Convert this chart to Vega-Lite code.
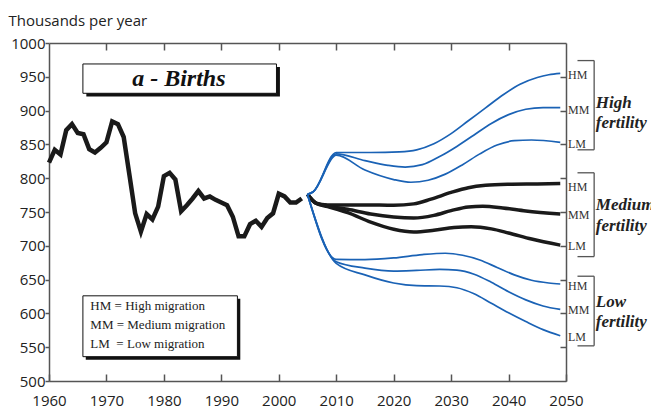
{
  "$schema": "https://vega.github.io/schema/vega-lite/v6.json",
  "width": 517,
  "height": 338,
  "autosize": {"type": "none"},
  "padding": {"left": 49, "top": 43, "right": 85, "bottom": 29},
  "background": "white",
  "config": {
    "view": {"stroke": null},
    "axis": {
      "labelFont": "Open Sans", "labelFontSize": 15, "labelColor": "#222",
      "domainColor": "#555", "tickColor": "#555", "domainWidth": 1.5, "tickWidth": 1.5,
      "grid": false, "titleFont": "Open Sans"
    }
  },
  "datasets": {
    "hist": [
      {"year": 1960, "value": 823}, {"year": 1961, "value": 842}, {"year": 1962, "value": 835},
      {"year": 1963, "value": 871}, {"year": 1964, "value": 880}, {"year": 1965, "value": 867},
      {"year": 1966, "value": 865}, {"year": 1967, "value": 843}, {"year": 1968, "value": 838},
      {"year": 1969, "value": 845}, {"year": 1970, "value": 853}, {"year": 1971, "value": 884},
      {"year": 1972, "value": 880}, {"year": 1973, "value": 861}, {"year": 1974, "value": 805},
      {"year": 1975, "value": 748}, {"year": 1976, "value": 721}, {"year": 1977, "value": 747},
      {"year": 1978, "value": 739}, {"year": 1979, "value": 758}, {"year": 1980, "value": 803},
      {"year": 1981, "value": 808}, {"year": 1982, "value": 798}, {"year": 1983, "value": 751},
      {"year": 1984, "value": 760}, {"year": 1985, "value": 770}, {"year": 1986, "value": 781},
      {"year": 1987, "value": 770}, {"year": 1988, "value": 773}, {"year": 1989, "value": 768},
      {"year": 1990, "value": 764}, {"year": 1991, "value": 760}, {"year": 1992, "value": 743},
      {"year": 1993, "value": 714}, {"year": 1994, "value": 714}, {"year": 1995, "value": 732},
      {"year": 1996, "value": 737}, {"year": 1997, "value": 728}, {"year": 1998, "value": 741},
      {"year": 1999, "value": 748}, {"year": 2000, "value": 777}, {"year": 2001, "value": 773},
      {"year": 2002, "value": 764}, {"year": 2003, "value": 764}, {"year": 2004, "value": 770}
    ],
    "proj": [
      {"s": "H-HM", "g": "High", "year": 2005, "value": 776},
      {"s": "H-HM", "g": "High", "year": 2006, "value": 780},
      {"s": "H-HM", "g": "High", "year": 2010, "value": 838},
      {"s": "H-HM", "g": "High", "year": 2016, "value": 838},
      {"s": "H-HM", "g": "High", "year": 2021, "value": 839},
      {"s": "H-HM", "g": "High", "year": 2024, "value": 842},
      {"s": "H-HM", "g": "High", "year": 2027, "value": 851},
      {"s": "H-HM", "g": "High", "year": 2030, "value": 866},
      {"s": "H-HM", "g": "High", "year": 2033, "value": 885},
      {"s": "H-HM", "g": "High", "year": 2036, "value": 904},
      {"s": "H-HM", "g": "High", "year": 2039, "value": 923},
      {"s": "H-HM", "g": "High", "year": 2042, "value": 939},
      {"s": "H-HM", "g": "High", "year": 2045, "value": 949},
      {"s": "H-HM", "g": "High", "year": 2047, "value": 953},
      {"s": "H-HM", "g": "High", "year": 2049, "value": 955},

      {"s": "H-MM", "g": "High", "year": 2005, "value": 776},
      {"s": "H-MM", "g": "High", "year": 2006, "value": 780},
      {"s": "H-MM", "g": "High", "year": 2010, "value": 836},
      {"s": "H-MM", "g": "High", "year": 2015, "value": 826},
      {"s": "H-MM", "g": "High", "year": 2019, "value": 819},
      {"s": "H-MM", "g": "High", "year": 2022, "value": 816.5},
      {"s": "H-MM", "g": "High", "year": 2025, "value": 820},
      {"s": "H-MM", "g": "High", "year": 2028, "value": 832},
      {"s": "H-MM", "g": "High", "year": 2031, "value": 847},
      {"s": "H-MM", "g": "High", "year": 2034, "value": 864},
      {"s": "H-MM", "g": "High", "year": 2037, "value": 881},
      {"s": "H-MM", "g": "High", "year": 2040, "value": 894},
      {"s": "H-MM", "g": "High", "year": 2043, "value": 902},
      {"s": "H-MM", "g": "High", "year": 2046, "value": 904.5},
      {"s": "H-MM", "g": "High", "year": 2049, "value": 904.5},

      {"s": "H-LM", "g": "High", "year": 2005, "value": 776},
      {"s": "H-LM", "g": "High", "year": 2006, "value": 780},
      {"s": "H-LM", "g": "High", "year": 2010, "value": 834},
      {"s": "H-LM", "g": "High", "year": 2015, "value": 812},
      {"s": "H-LM", "g": "High", "year": 2020, "value": 798},
      {"s": "H-LM", "g": "High", "year": 2023, "value": 794},
      {"s": "H-LM", "g": "High", "year": 2026, "value": 797},
      {"s": "H-LM", "g": "High", "year": 2029, "value": 806},
      {"s": "H-LM", "g": "High", "year": 2032, "value": 820},
      {"s": "H-LM", "g": "High", "year": 2035, "value": 836},
      {"s": "H-LM", "g": "High", "year": 2038, "value": 849},
      {"s": "H-LM", "g": "High", "year": 2041, "value": 855.5},
      {"s": "H-LM", "g": "High", "year": 2044, "value": 856.5},
      {"s": "H-LM", "g": "High", "year": 2049, "value": 853},

      {"s": "M-HM", "g": "Medium", "year": 2005, "value": 776},
      {"s": "M-HM", "g": "Medium", "year": 2006.5, "value": 763},
      {"s": "M-HM", "g": "Medium", "year": 2008.5, "value": 760.5},
      {"s": "M-HM", "g": "Medium", "year": 2015, "value": 760.5},
      {"s": "M-HM", "g": "Medium", "year": 2020, "value": 760},
      {"s": "M-HM", "g": "Medium", "year": 2023.5, "value": 762},
      {"s": "M-HM", "g": "Medium", "year": 2026.5, "value": 769},
      {"s": "M-HM", "g": "Medium", "year": 2030, "value": 779},
      {"s": "M-HM", "g": "Medium", "year": 2033, "value": 786},
      {"s": "M-HM", "g": "Medium", "year": 2036, "value": 789.5},
      {"s": "M-HM", "g": "Medium", "year": 2040, "value": 791},
      {"s": "M-HM", "g": "Medium", "year": 2045, "value": 791.5},
      {"s": "M-HM", "g": "Medium", "year": 2049, "value": 792},

      {"s": "M-MM", "g": "Medium", "year": 2005, "value": 776},
      {"s": "M-MM", "g": "Medium", "year": 2006.5, "value": 763},
      {"s": "M-MM", "g": "Medium", "year": 2008.5, "value": 759},
      {"s": "M-MM", "g": "Medium", "year": 2012, "value": 754},
      {"s": "M-MM", "g": "Medium", "year": 2016, "value": 747},
      {"s": "M-MM", "g": "Medium", "year": 2020, "value": 742.5},
      {"s": "M-MM", "g": "Medium", "year": 2023.5, "value": 741},
      {"s": "M-MM", "g": "Medium", "year": 2027, "value": 745},
      {"s": "M-MM", "g": "Medium", "year": 2030, "value": 752},
      {"s": "M-MM", "g": "Medium", "year": 2033, "value": 757.5},
      {"s": "M-MM", "g": "Medium", "year": 2035.5, "value": 758.5},
      {"s": "M-MM", "g": "Medium", "year": 2039, "value": 756},
      {"s": "M-MM", "g": "Medium", "year": 2043, "value": 751.5},
      {"s": "M-MM", "g": "Medium", "year": 2049, "value": 747},

      {"s": "M-LM", "g": "Medium", "year": 2005, "value": 776},
      {"s": "M-LM", "g": "Medium", "year": 2006.5, "value": 763},
      {"s": "M-LM", "g": "Medium", "year": 2008.5, "value": 758},
      {"s": "M-LM", "g": "Medium", "year": 2012, "value": 749},
      {"s": "M-LM", "g": "Medium", "year": 2016, "value": 735},
      {"s": "M-LM", "g": "Medium", "year": 2020, "value": 724.5},
      {"s": "M-LM", "g": "Medium", "year": 2023.5, "value": 720.5},
      {"s": "M-LM", "g": "Medium", "year": 2027, "value": 723},
      {"s": "M-LM", "g": "Medium", "year": 2030.5, "value": 727},
      {"s": "M-LM", "g": "Medium", "year": 2033.5, "value": 728},
      {"s": "M-LM", "g": "Medium", "year": 2037, "value": 725},
      {"s": "M-LM", "g": "Medium", "year": 2040, "value": 719},
      {"s": "M-LM", "g": "Medium", "year": 2044, "value": 710},
      {"s": "M-LM", "g": "Medium", "year": 2049, "value": 701},

      {"s": "L-HM", "g": "Low", "year": 2005, "value": 776},
      {"s": "L-HM", "g": "Low", "year": 2010, "value": 680},
      {"s": "L-HM", "g": "Low", "year": 2015, "value": 679.5},
      {"s": "L-HM", "g": "Low", "year": 2020, "value": 682},
      {"s": "L-HM", "g": "Low", "year": 2025, "value": 687},
      {"s": "L-HM", "g": "Low", "year": 2029, "value": 689},
      {"s": "L-HM", "g": "Low", "year": 2032, "value": 686},
      {"s": "L-HM", "g": "Low", "year": 2035, "value": 679},
      {"s": "L-HM", "g": "Low", "year": 2038, "value": 668},
      {"s": "L-HM", "g": "Low", "year": 2041, "value": 657},
      {"s": "L-HM", "g": "Low", "year": 2044, "value": 649},
      {"s": "L-HM", "g": "Low", "year": 2047, "value": 645},
      {"s": "L-HM", "g": "Low", "year": 2049, "value": 643.5},

      {"s": "L-MM", "g": "Low", "year": 2005, "value": 776},
      {"s": "L-MM", "g": "Low", "year": 2010, "value": 676.5},
      {"s": "L-MM", "g": "Low", "year": 2015, "value": 667},
      {"s": "L-MM", "g": "Low", "year": 2020, "value": 662.5},
      {"s": "L-MM", "g": "Low", "year": 2024, "value": 663.5},
      {"s": "L-MM", "g": "Low", "year": 2028, "value": 665},
      {"s": "L-MM", "g": "Low", "year": 2031, "value": 664},
      {"s": "L-MM", "g": "Low", "year": 2034, "value": 658},
      {"s": "L-MM", "g": "Low", "year": 2037, "value": 646},
      {"s": "L-MM", "g": "Low", "year": 2040, "value": 632},
      {"s": "L-MM", "g": "Low", "year": 2043, "value": 620},
      {"s": "L-MM", "g": "Low", "year": 2046, "value": 611},
      {"s": "L-MM", "g": "Low", "year": 2049, "value": 606},

      {"s": "L-LM", "g": "Low", "year": 2005, "value": 776},
      {"s": "L-LM", "g": "Low", "year": 2010, "value": 674},
      {"s": "L-LM", "g": "Low", "year": 2015, "value": 657},
      {"s": "L-LM", "g": "Low", "year": 2020, "value": 645},
      {"s": "L-LM", "g": "Low", "year": 2024, "value": 641},
      {"s": "L-LM", "g": "Low", "year": 2028, "value": 640.5},
      {"s": "L-LM", "g": "Low", "year": 2031, "value": 638},
      {"s": "L-LM", "g": "Low", "year": 2034, "value": 629},
      {"s": "L-LM", "g": "Low", "year": 2037, "value": 615},
      {"s": "L-LM", "g": "Low", "year": 2040, "value": 601},
      {"s": "L-LM", "g": "Low", "year": 2043, "value": 588},
      {"s": "L-LM", "g": "Low", "year": 2046, "value": 576},
      {"s": "L-LM", "g": "Low", "year": 2049, "value": 567}
    ],
    "endlabels": [
      {"t": "HM", "value": 952}, {"t": "MM", "value": 901}, {"t": "LM", "value": 850},
      {"t": "HM", "value": 787}, {"t": "MM", "value": 745}, {"t": "LM", "value": 700},
      {"t": "HM", "value": 641}, {"t": "MM", "value": 605}, {"t": "LM", "value": 565}
    ],
    "groups": [
      {"g": "High", "top": 974, "bottom": 842},
      {"g": "Medium", "top": 808, "bottom": 684},
      {"g": "Low", "top": 655, "bottom": 552}
    ],
    "grouplabels": [
      {"t": "High", "value": 911}, {"t": "fertility", "value": 881},
      {"t": "Medium", "value": 760}, {"t": "fertility", "value": 730},
      {"t": "Low", "value": 617}, {"t": "fertility", "value": 588}
    ],
    "legend": [
      {"t": "HM = High migration", "value": 611},
      {"t": "MM = Medium migration", "value": 583},
      {"t": "LM\u00a0 = Low migration", "value": 554}
    ]
  },
  "resolve": {"axis": {"x": "independent", "y": "independent"}},
  "layer": [
    {
      "data": {"name": "hist"},
      "mark": {"type": "line", "color": "#1a1a1a", "strokeWidth": 4.5, "strokeJoin": "miter"},
      "encoding": {
        "x": {"field": "year", "type": "quantitative",
              "scale": {"domain": [1960, 2050], "nice": false, "zero": false},
              "axis": {"orient": "bottom", "values": [1960, 1970, 1980, 1990, 2000, 2010, 2020, 2030, 2040, 2050],
                       "format": "d", "tickSize": -7, "labelPadding": 19, "title": null, "labelFlush": false}},
        "y": {"field": "value", "type": "quantitative",
              "scale": {"domain": [500, 1000], "nice": false, "zero": false},
              "axis": {"orient": "left", "values": [500, 550, 600, 650, 700, 750, 800, 850, 900, 950, 1000],
                       "format": "d", "tickSize": 4, "labelPadding": 0, "title": "Thousands per year",
                       "titleAngle": 0, "titleAlign": "left", "titleBaseline": "alphabetic",
                       "titleX": -41, "titleY": -18, "titleFontSize": 15, "titleFontWeight": "normal",
                       "titleColor": "#222"}}
      }
    },
    {
      "data": {"name": "proj"},
      "transform": [{"filter": "datum.g === 'Medium'"}],
      "mark": {"type": "line", "color": "#1a1a1a", "strokeWidth": 3.5, "interpolate": "monotone"},
      "encoding": {
        "x": {"field": "year", "type": "quantitative",
              "axis": {"orient": "top", "values": [1970, 1980, 1990, 2000, 2010, 2020, 2030, 2040],
                       "tickSize": -7, "labels": false, "title": null}},
        "y": {"field": "value", "type": "quantitative",
              "axis": {"orient": "right", "values": [550, 600, 650, 700, 750, 800, 850, 900, 950],
                       "tickSize": -6, "labels": false, "title": null}},
        "detail": {"field": "s"}
      }
    },
    {
      "data": {"name": "proj"},
      "transform": [{"filter": "datum.g !== 'Medium'"}],
      "mark": {"type": "line", "color": "#1a62b5", "strokeWidth": 1.7, "interpolate": "monotone"},
      "encoding": {
        "x": {"field": "year", "type": "quantitative", "axis": null},
        "y": {"field": "value", "type": "quantitative", "axis": null},
        "detail": {"field": "s"}
      }
    },
    {
      "data": {"values": [{}]},
      "mark": {"type": "rect", "color": "#111"},
      "encoding": {
        "x": {"datum": 1966.5, "type": "quantitative", "axis": null},
        "x2": {"datum": 2000.2},
        "y": {"datum": 921, "type": "quantitative", "axis": null},
        "y2": {"datum": 964.5}
      }
    },
    {
      "data": {"values": [{}]},
      "mark": {"type": "rect", "fill": "white", "stroke": "#111", "strokeWidth": 1},
      "encoding": {
        "x": {"datum": 1965.9, "type": "quantitative", "axis": null},
        "x2": {"datum": 1999.6},
        "y": {"datum": 925.6, "type": "quantitative", "axis": null},
        "y2": {"datum": 969}
      }
    },
    {
      "data": {"values": [{"t": "a - Births"}]},
      "mark": {"type": "text", "font": "Liberation Serif", "fontSize": 24, "fontStyle": "italic",
               "fontWeight": "bold", "color": "#111", "align": "center", "baseline": "middle"},
      "encoding": {
        "x": {"datum": 1982.6, "type": "quantitative", "axis": null},
        "y": {"datum": 947, "type": "quantitative", "axis": null},
        "text": {"field": "t"}
      }
    },
    {
      "data": {"values": [{}]},
      "mark": {"type": "rect", "color": "#111"},
      "encoding": {
        "x": {"datum": 1966.4, "type": "quantitative", "axis": null},
        "x2": {"datum": 1993.3},
        "y": {"datum": 531.5, "type": "quantitative", "axis": null},
        "y2": {"datum": 621.5}
      }
    },
    {
      "data": {"values": [{}]},
      "mark": {"type": "rect", "fill": "white", "stroke": "#111", "strokeWidth": 1},
      "encoding": {
        "x": {"datum": 1965.9, "type": "quantitative", "axis": null},
        "x2": {"datum": 1992.8},
        "y": {"datum": 536, "type": "quantitative", "axis": null},
        "y2": {"datum": 626}
      }
    },
    {
      "data": {"name": "legend"},
      "mark": {"type": "text", "font": "Liberation Serif", "fontSize": 13, "color": "#222",
               "align": "left", "baseline": "middle"},
      "encoding": {
        "x": {"datum": 1967.2, "type": "quantitative", "axis": null},
        "y": {"field": "value", "type": "quantitative", "axis": null},
        "text": {"field": "t"}
      }
    },
    {
      "data": {"name": "endlabels"},
      "mark": {"type": "text", "font": "Liberation Serif", "fontSize": 12, "color": "#333",
               "align": "left", "baseline": "middle", "dx": 2},
      "encoding": {
        "x": {"datum": 2050, "type": "quantitative", "axis": null},
        "y": {"field": "value", "type": "quantitative", "axis": null},
        "text": {"field": "t"}
      }
    },
    {
      "data": {"name": "groups"},
      "mark": {"type": "rule", "color": "#555", "strokeWidth": 1.3},
      "encoding": {
        "x": {"datum": 2054.9, "type": "quantitative", "axis": null},
        "y": {"field": "top", "type": "quantitative", "axis": null},
        "y2": {"field": "bottom"}
      }
    },
    {
      "data": {"name": "groups"},
      "mark": {"type": "rule", "color": "#555", "strokeWidth": 1.3},
      "encoding": {
        "x": {"datum": 2052, "type": "quantitative", "axis": null},
        "x2": {"datum": 2054.9},
        "y": {"field": "top", "type": "quantitative", "axis": null}
      }
    },
    {
      "data": {"name": "groups"},
      "mark": {"type": "rule", "color": "#555", "strokeWidth": 1.3},
      "encoding": {
        "x": {"datum": 2052, "type": "quantitative", "axis": null},
        "x2": {"datum": 2054.9},
        "y": {"field": "bottom", "type": "quantitative", "axis": null}
      }
    },
    {
      "data": {"name": "grouplabels"},
      "mark": {"type": "text", "font": "Liberation Serif", "fontSize": 17, "fontStyle": "italic",
               "fontWeight": "bold", "color": "#222", "align": "left", "baseline": "middle"},
      "encoding": {
        "x": {"datum": 2055.2, "type": "quantitative", "axis": null},
        "y": {"field": "value", "type": "quantitative", "axis": null},
        "text": {"field": "t"}
      }
    }
  ]
}
